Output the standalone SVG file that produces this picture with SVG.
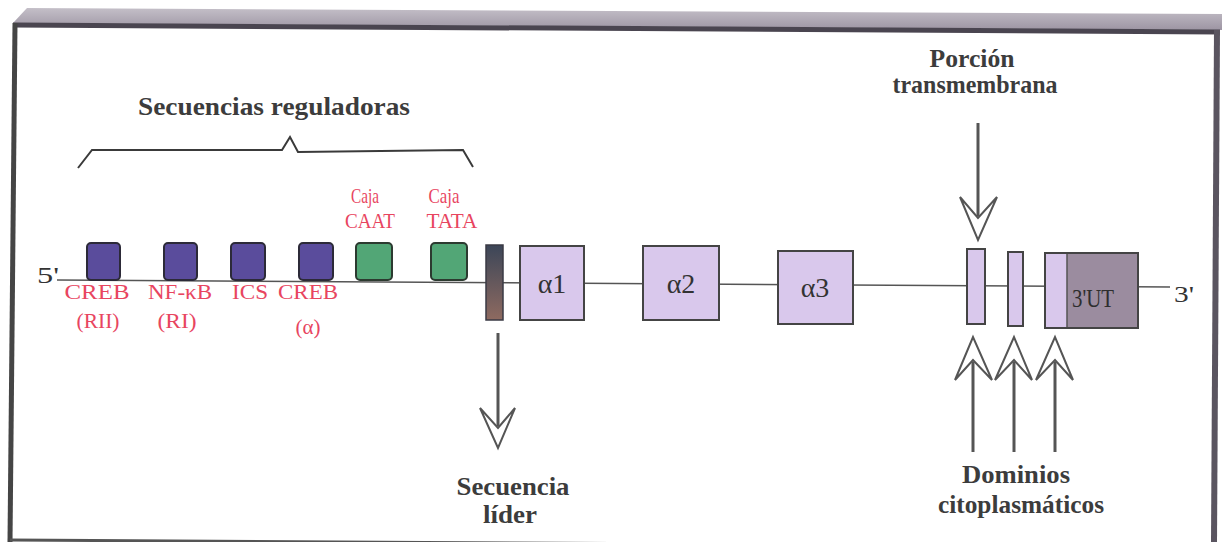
<svg xmlns="http://www.w3.org/2000/svg" width="1223" height="542" viewBox="0 0 1223 542">
<defs>
<style>
.lab{font-family:"Liberation Serif","Times New Roman",serif;font-weight:bold;fill:#3c3c3c;text-anchor:middle}
.red{font-family:"Liberation Serif","Times New Roman",serif;font-size:21px;fill:#e8455f;text-anchor:middle}
.ex{font-family:"Liberation Serif","Times New Roman",serif;font-size:28px;fill:#333;text-anchor:middle}
.end{font-family:"Liberation Serif","Times New Roman",serif;font-size:24px;fill:#333}
.blue{fill:#5a4c9c;stroke:#2c2a38;stroke-width:2}
.green{fill:#52a676;stroke:#2c3a30;stroke-width:2}
.lav{fill:#d9c8ec;stroke:#444;stroke-width:2}
.shaft{stroke:#555;stroke-width:3;fill:none}
.head{fill:#fff;stroke:#555;stroke-width:2;stroke-linejoin:miter}
</style>
<linearGradient id="lead" x1="0" y1="0" x2="0" y2="1">
<stop offset="0" stop-color="#3c4658"/>
<stop offset="1" stop-color="#8e6a60"/>
</linearGradient>
<linearGradient id="band" x1="0" y1="0" x2="0" y2="1">
<stop offset="0" stop-color="#c4bfc8"/>
<stop offset="1" stop-color="#9d95a3"/>
</linearGradient>
</defs>
<rect width="1223" height="542" fill="#fff"/>
<g id="frame">
<polygon points="27,8 1222,14 1222,30 13,23" fill="url(#band)"/>
<line x1="13" y1="25" x2="1220" y2="32" stroke="#4a4550" stroke-width="5"/>
<line x1="15" y1="23" x2="10" y2="542" stroke="#454545" stroke-width="5"/>
<line x1="1217" y1="30" x2="1214" y2="542" stroke="#5a5560" stroke-width="6"/>
<line x1="10" y1="540" x2="1214" y2="547" stroke="#555" stroke-width="3"/>
</g>
<g id="connectors">
<line x1="57" y1="280" x2="1170" y2="287" stroke="#555" stroke-width="1.5"/>
<path d="M78,168 L92,150 L282,150 L290,137 L298,152 L463,150 L473,167" fill="none" stroke="#3a3a3a" stroke-width="2"/>
<line class="shaft" x1="978" y1="123" x2="978" y2="216"/>
<polygon class="head" points="960,197 978,218 997,197 978,240"/>
<line class="shaft" x1="498" y1="333" x2="498" y2="426"/>
<polygon class="head" points="480,408 498,428 515,408 498,448"/>
<line class="shaft" x1="973" y1="452" x2="973" y2="362"/>
<polygon class="head" points="955,380 973,360 992,380 973,337"/>
<line class="shaft" x1="1014" y1="452" x2="1014" y2="362"/>
<polygon class="head" points="995,380 1014,360 1032,380 1014,337"/>
<line class="shaft" x1="1055" y1="452" x2="1055" y2="362"/>
<polygon class="head" points="1036,380 1055,360 1073,380 1055,337"/>
</g>
<g id="ends">
<text class="end" x="37" y="283" textLength="22" lengthAdjust="spacingAndGlyphs">5'</text>
<text class="end" x="1174" y="302" textLength="20" lengthAdjust="spacingAndGlyphs">3'</text>
</g>
<g id="title-reg">
<text class="lab" x="274" y="115" font-size="26" textLength="272" lengthAdjust="spacingAndGlyphs">Secuencias reguladoras</text>
</g>
<g id="creb-rii">
<rect class="blue" x="87" y="243" width="33" height="37" rx="4"/>
<text class="red" x="97" y="299" textLength="65" lengthAdjust="spacingAndGlyphs">CREB</text>
<text class="red" x="98" y="328" textLength="43" lengthAdjust="spacingAndGlyphs">(RII)</text>
</g>
<g id="nfkb">
<rect class="blue" x="164" y="243" width="33" height="37" rx="4"/>
<text class="red" x="180" y="299" textLength="64" lengthAdjust="spacingAndGlyphs">NF-κB</text>
<text class="red" x="177" y="328" textLength="39" lengthAdjust="spacingAndGlyphs">(RI)</text>
</g>
<g id="ics">
<rect class="blue" x="231" y="243" width="34" height="37" rx="4"/>
<text class="red" x="250" y="299" textLength="36" lengthAdjust="spacingAndGlyphs">ICS</text>
</g>
<g id="creb-a">
<rect class="blue" x="299" y="243" width="34" height="37" rx="4"/>
<text class="red" x="308" y="299" textLength="60" lengthAdjust="spacingAndGlyphs">CREB</text>
<text class="red" x="308" y="334" textLength="25" lengthAdjust="spacingAndGlyphs">(α)</text>
</g>
<g id="caat">
<rect class="green" x="356" y="243" width="36" height="37" rx="4"/>
<text class="red" x="365" y="203" textLength="28" lengthAdjust="spacingAndGlyphs">Caja</text>
<text class="red" x="370" y="228" textLength="50" lengthAdjust="spacingAndGlyphs">CAAT</text>
</g>
<g id="tata">
<rect class="green" x="431" y="243" width="36" height="37" rx="4"/>
<text class="red" x="444" y="203" textLength="31" lengthAdjust="spacingAndGlyphs">Caja</text>
<text class="red" x="452" y="228" textLength="51" lengthAdjust="spacingAndGlyphs">TATA</text>
</g>
<g id="leader">
<rect x="486" y="245" width="17" height="75" fill="url(#lead)" stroke="#3a3a44" stroke-width="1.5"/>
<text class="lab" x="513" y="495" font-size="25" textLength="113" lengthAdjust="spacingAndGlyphs">Secuencia</text>
<text class="lab" x="510" y="523" font-size="25" textLength="54" lengthAdjust="spacingAndGlyphs">líder</text>
</g>
<g id="a1">
<rect class="lav" x="520" y="246" width="64" height="74"/>
<text class="ex" x="552" y="293">α1</text>
</g>
<g id="a2">
<rect class="lav" x="643" y="246" width="76" height="74"/>
<text class="ex" x="681" y="293">α2</text>
</g>
<g id="a3">
<rect class="lav" x="778" y="251" width="75" height="73"/>
<text class="ex" x="815" y="297">α3</text>
</g>
<g id="tm">
<rect class="lav" x="967" y="249" width="18" height="75"/>
<text class="lab" x="972" y="67" font-size="25" textLength="85" lengthAdjust="spacingAndGlyphs">Porción</text>
<text class="lab" x="975" y="93" font-size="25" textLength="165" lengthAdjust="spacingAndGlyphs">transmembrana</text>
</g>
<g id="cyto2">
<rect class="lav" x="1008" y="252" width="15" height="74"/>
</g>
<g id="utr">
<rect x="1045" y="253" width="93" height="75" fill="#9b8c9f" stroke="#444" stroke-width="2"/>
<rect x="1046" y="254" width="21" height="73" fill="#d9c8ec"/>
<line x1="1067" y1="254" x2="1067" y2="327" stroke="#555" stroke-width="1.5"/>
<text x="1093" y="307" font-family="Liberation Serif,Times New Roman,serif" font-size="26" fill="#2e2e2e" text-anchor="middle" textLength="42" lengthAdjust="spacingAndGlyphs">3'UT</text>
</g>
<g id="cyto-label">
<text class="lab" x="1016" y="483" font-size="25" textLength="108" lengthAdjust="spacingAndGlyphs">Dominios</text>
<text class="lab" x="1021" y="513" font-size="25" textLength="166" lengthAdjust="spacingAndGlyphs">citoplasmáticos</text>
</g>
</svg>
